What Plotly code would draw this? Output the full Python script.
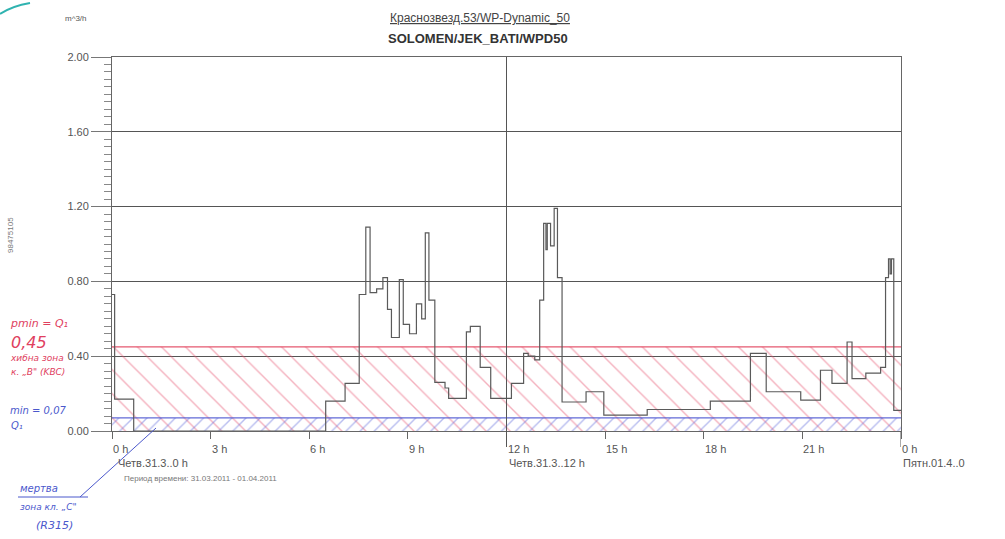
import plotly.graph_objects as go

# ---------------- data ----------------
hours = [0.00, 0.08, 0.66, 6.50, 7.09, 7.52, 7.72, 7.85, 8.05, 8.24, 8.38, 8.50, 8.74, 8.86,
         9.05, 9.26, 9.42, 9.53, 9.64, 9.82, 10.13, 10.24, 10.78, 10.90, 11.20, 11.52, 12.15,
         12.52, 12.66, 12.86, 13.01, 13.13, 13.20, 13.24, 13.34, 13.45, 13.55, 13.69, 14.42,
         14.96, 16.28, 18.20, 19.42, 19.90, 20.95, 21.55, 21.90, 22.36, 22.51, 22.93, 23.38,
         23.53, 23.62, 23.67, 23.71, 23.78, 24.00]
flow = [0.73, 0.17, 0.00, 0.16, 0.255, 0.73, 1.09, 0.74, 0.76, 0.82, 0.65, 0.50, 0.81, 0.57,
        0.52, 0.68, 0.60, 1.06, 0.70, 0.26, 0.23, 0.175, 0.53, 0.56, 0.34, 0.175, 0.255,
        0.415, 0.40, 0.38, 0.70, 1.11, 0.97, 1.11, 0.99, 1.19, 0.82, 0.155, 0.21,
        0.085, 0.115, 0.16, 0.415, 0.21, 0.165, 0.325, 0.255, 0.476, 0.28, 0.31, 0.34,
        0.82, 0.92, 0.84, 0.92, 0.11, 0.11]

band_work = 0.45      # Pmin = Q1 (red zone)
band_dead = 0.07      # min (blue zone)

y_ticks = [0.0, 0.4, 0.8, 1.2, 1.6, 2.0]
y_tick_text = ["0.00", "0.40", "0.80", "1.20", "1.60", "2.00"]
x_ticks = [0, 3, 6, 9, 12, 15, 18, 21, 24]
x_tick_text = ["0 h", "3 h", "6 h", "9 h", "12 h", "15 h", "18 h", "21 h", "0 h"]
day_labels = [(0, "Четв.31.3..0 h"), (12, "Четв.31.3..12 h"), (24, "Пятн.01.4..0")]

title1 = "Краснозвезд.53/WP-Dynamic_50"
title2 = "SOLOMEN/JEK_BATI/WPD50"
unit = "m^3/h"
period = "Период времени: 31.03.2011 - 01.04.2011"
serial = "98475105"

assert len(hours) == len(flow)

# ---------------- layout helpers ----------------
W, H = 1005, 539
L, R, T, B = 112, 104, 57, 108
PW, PH = W - L - R, H - T - B


def px(X):
    return (X - L) / PW


def py(Y):
    return (H - B - Y) / PH


FONT = "Liberation Sans, Arial, sans-serif"
RED = "#e0405e"
BLUE = "#4b58cc"

fig = go.Figure()

fig.add_trace(go.Scatter(
    x=[0, 24], y=[band_work, band_work], mode="lines", fill="tozeroy",
    line=dict(color="rgba(225,70,95,0.9)", width=1.3),
    fillcolor="rgba(0,0,0,0)",
    fillpattern=dict(shape="\\", fgcolor="rgba(230,80,108,0.9)", bgcolor="rgba(0,0,0,0)",
                     size=17, solidity=0.08),
    hoverinfo="skip", showlegend=False))

fig.add_trace(go.Scatter(
    x=[0, 24], y=[band_dead, band_dead], mode="lines", fill="tozeroy",
    line=dict(color="rgba(80,90,210,0.9)", width=1.2),
    fillcolor="rgba(0,0,0,0)",
    fillpattern=dict(shape="/", fgcolor="rgba(95,105,220,0.9)", bgcolor="rgba(0,0,0,0)",
                     size=10, solidity=0.14),
    hoverinfo="skip", showlegend=False))

fig.add_trace(go.Scatter(
    x=hours, y=flow, mode="lines", line=dict(color="#5a5a5a", width=1.2, shape="hv"),
    hoverinfo="skip", showlegend=False))

fig.update_xaxes(
    range=[0, 24], showgrid=False, zeroline=False, showline=True, mirror=True,
    linecolor="#666", linewidth=1, tickvals=x_ticks, ticktext=[""] * len(x_ticks),
    ticks="outside", ticklen=7, tickcolor="#666", showticklabels=False)

fig.update_yaxes(
    range=[0, 2.0], showgrid=True, gridcolor="#555", gridwidth=1, zeroline=False,
    showline=True, mirror=True, linecolor="#666", linewidth=1,
    tickvals=y_ticks, ticktext=y_tick_text, ticks="outside", ticklen=20,
    tickcolor="#777", ticklabelstandoff=0,
    tickfont=dict(family=FONT, size=11, color="#555"),
    minor=dict(dtick=0.04, ticks="outside", ticklen=7, tickcolor="#888", showgrid=False))

shapes = []
# vertical 12 h line
shapes.append(dict(type="line", xref="x", yref="paper", x0=12, x1=12, y0=py(447), y1=1,
                   line=dict(color="#555", width=1)))
shapes.append(dict(type="line", xref="x", yref="paper", x0=24, x1=24, y0=py(447), y1=0,
                   line=dict(color="#555", width=1)))
# handwritten pointer lines
shapes.append(dict(type="line", xref="paper", yref="paper", x0=px(80), y0=py(497),
                   x1=px(156), y1=py(428), line=dict(color=BLUE, width=1)))
shapes.append(dict(type="line", xref="paper", yref="paper", x0=px(18), y0=py(497),
                   x1=px(88), y1=py(497), line=dict(color=BLUE, width=1)))
# teal pen mark top-left
shapes.append(dict(type="path", xref="paper", yref="paper",
                   path=f"M {px(0)} {py(14)} Q {px(12)} {py(6)} {px(30)} {py(3)}",
                   line=dict(color="#2fb3b0", width=2)))

ann = []


def text(X, Y, s, size=10, color="#444", xanchor="left", angle=0, font=FONT):
    ann.append(dict(xref="paper", yref="paper", x=px(X), y=py(Y), text=s, showarrow=False,
                    xanchor=xanchor, yanchor="middle", textangle=angle,
                    font=dict(family=font, size=size, color=color)))


text(480, 18, f"<u>{title1}</u>", size=12, color="#444", xanchor="center")
text(478, 38, f"<b>{title2}</b>", size=13, color="#333", xanchor="center")
text(63, 18, unit, size=8, color="#555")
text(10, 235, serial, size=8, color="#777", xanchor="center", angle=-90)

for h, s in zip(x_ticks, x_tick_text):
    ann.append(dict(xref="x", yref="paper", x=h, y=py(449), text=s, showarrow=False,
                    xanchor="left", yanchor="middle", xshift=-1,
                    font=dict(family=FONT, size=11, color="#555")))
for h, s in day_labels:
    ann.append(dict(xref="x", yref="paper", x=h, y=py(463), text=s, showarrow=False,
                    xanchor="left", yanchor="middle", xshift=4 if h == 0 else 0,
                    font=dict(family=FONT, size=11, color="#555")))
text(122, 478, period, size=8, color="#777")

HF = "DejaVu Sans, sans-serif"
text(8, 323, "<i>pmin = Q₁</i>", size=11, color=RED, font=HF)
text(9, 342, "<i>0,45</i>", size=16, color=RED, font=HF)
text(8, 358, "<i>хибна зона</i>", size=9, color=RED, font=HF)
text(9, 372, "<i>к. „B\" (KBC)</i>", size=9, color=RED, font=HF)
text(8, 410, "<i>min = 0,07</i>", size=10, color=BLUE, font=HF)
text(9, 425, "<i>Q₁</i>", size=10, color=BLUE, font=HF)
text(18, 488, "<i>мертва</i>", size=10, color=BLUE, font=HF)
text(18, 507, "<i>зона кл. „C\"</i>", size=9, color=BLUE, font=HF)
text(34, 525, "<i>(R315)</i>", size=11, color=BLUE, font=HF)

fig.update_layout(
    width=W, height=H, margin=dict(l=L, r=R, t=T, b=B, pad=0),
    paper_bgcolor="white", plot_bgcolor="white",
    shapes=shapes, annotations=ann, showlegend=False)

fig.write_html("out.html", config={"displayModeBar": False},
               post_script="document.body.style.margin='0';document.body.style.padding='0';")
